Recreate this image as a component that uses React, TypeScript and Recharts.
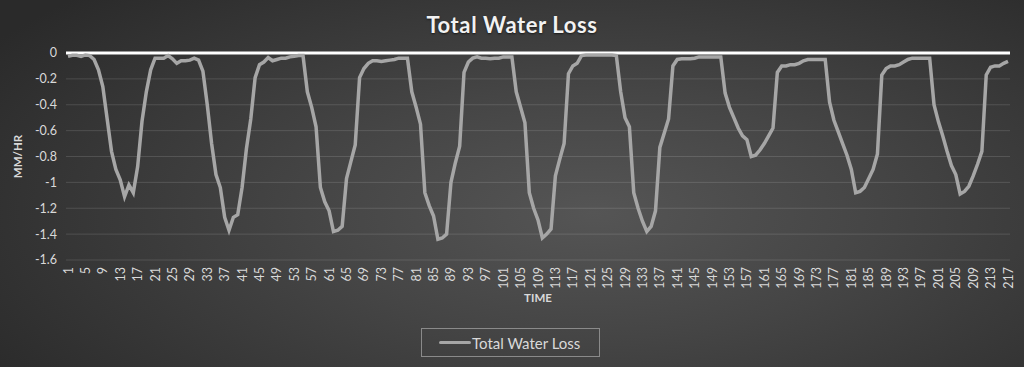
import { LineChart, Line, XAxis, YAxis, CartesianGrid, ReferenceLine } from 'recharts';

document.body.style.margin = '0';

// time steps 1..217 (category labels)
const timeSteps: number[] = Array.from({ length: 217 }, (_, i) => i + 1);

// total water loss, mm/hr
const waterLoss: number[] = [
  -0.026, -0.018, -0.018, -0.026, -0.015, -0.02, -0.05, -0.13, -0.26, -0.51,
  -0.76, -0.9, -0.98, -1.11, -1.02, -1.08, -0.88, -0.53, -0.3, -0.13,
  -0.04, -0.04, -0.04, -0.02, -0.045, -0.08, -0.06, -0.06, -0.055, -0.04,
  -0.055, -0.14, -0.4, -0.7, -0.94, -1.04, -1.27, -1.37, -1.27, -1.25,
  -1.04, -0.74, -0.51, -0.19, -0.09, -0.07, -0.035, -0.06, -0.05, -0.04,
  -0.04, -0.03, -0.025, -0.02, -0.02, -0.3, -0.42, -0.57, -1.04, -1.15,
  -1.22, -1.38, -1.37, -1.34, -0.97, -0.84, -0.71, -0.19, -0.12, -0.08,
  -0.06, -0.06, -0.065, -0.06, -0.055, -0.05, -0.04, -0.04, -0.04, -0.3,
  -0.42, -0.55, -1.08, -1.18, -1.26, -1.44, -1.43, -1.4, -1.0, -0.85,
  -0.72, -0.15, -0.07, -0.04, -0.03, -0.04, -0.04, -0.045, -0.04, -0.04,
  -0.03, -0.03, -0.03, -0.3, -0.42, -0.54, -1.08, -1.2, -1.29, -1.43,
  -1.4, -1.36, -0.95, -0.82, -0.7, -0.16, -0.1, -0.08, -0.02, -0.015,
  -0.015, -0.015, -0.015, -0.015, -0.015, -0.015, -0.02, -0.3, -0.5, -0.57,
  -1.08, -1.2, -1.3, -1.38, -1.34, -1.22, -0.73, -0.62, -0.51, -0.1,
  -0.05, -0.045, -0.045, -0.045, -0.04, -0.03, -0.03, -0.03, -0.03, -0.03,
  -0.03, -0.31, -0.42, -0.5, -0.58, -0.64, -0.67, -0.8, -0.79, -0.75,
  -0.7, -0.64, -0.58, -0.15, -0.1, -0.1, -0.09, -0.09, -0.08, -0.06,
  -0.05, -0.05, -0.05, -0.05, -0.05, -0.38, -0.52, -0.61, -0.7, -0.79,
  -0.9, -1.08, -1.07, -1.04, -0.97, -0.9, -0.78, -0.17, -0.12, -0.1,
  -0.1, -0.09, -0.07, -0.05, -0.04, -0.04, -0.04, -0.04, -0.04, -0.4,
  -0.53, -0.64, -0.76, -0.87, -0.94, -1.09, -1.07, -1.03, -0.95, -0.86,
  -0.76, -0.17, -0.11, -0.1, -0.1, -0.08, -0.065,
];

const yTicks: number[] = [0, -0.2, -0.4, -0.6, -0.8, -1, -1.2, -1.4, -1.6];

const chartData = timeSteps.map((t, i) => ({ time: t, loss: waterLoss[i] }));

const FONT = 'Lato, "Open Sans", sans-serif';
const TEXT = '#d9d9d9';
const LINE = '#a6a6a6';

const XTick = ({ x, y, payload }: any) => (
  <text
    transform={`translate(${x},${y}) rotate(-90)`}
    textAnchor="end"
    dominantBaseline="central"
    fill={TEXT}
    fontSize={12.5}
    fontFamily={FONT}
  >
    {payload.value}
  </text>
);

const App = () => {
  return (
    <div
      style={{
        position: 'relative',
        width: 1024,
        height: 367,
        background: 'radial-gradient(ellipse 70% 85% at 58% 58%, #555 0%, #454545 40%, #2a2a2a 100%)',
        fontFamily: FONT,
        overflow: 'hidden',
      }}
    >
      <div
        style={{
          position: 'absolute', top: 11, left: 0, width: 1024, textAlign: 'center',
          color: '#f2f2f2', fontWeight: 700, fontSize: 22, letterSpacing: 0.6,
          textShadow: '0 1px 2px rgba(0,0,0,0.6)',
        }}
      >
        Total Water Loss
      </div>

      <LineChart width={1024} height={367} data={chartData} margin={{ top: 53, right: 14, left: 0, bottom: 67 }}>
        <CartesianGrid horizontal vertical={false} stroke="rgba(255,255,255,0.13)" />
        <XAxis
          dataKey="time"
          interval={3}
          height={40}
          tick={<XTick />}
          tickLine={false}
          axisLine={false}
          tickSize={0}
          tickMargin={7}
          padding={{ left: 2, right: 2 }}
          label={{ value: 'TIME', position: 'insideBottom', offset: -2, fill: TEXT, fontSize: 11.5, fontWeight: 700, fontFamily: FONT }}
        />
        <YAxis
          width={66}
          domain={[-1.6, 0]}
          ticks={yTicks}
          tickLine={false}
          axisLine={false}
          tickSize={0}
          tickMargin={9}
          tick={{ fill: TEXT, fontSize: 12.5, fontFamily: FONT }}
          label={{ value: 'MM/HR', angle: -90, position: 'insideLeft', offset: 18, fill: TEXT, fontSize: 11.5, fontWeight: 700, fontFamily: FONT, style: { textAnchor: 'middle' } }}
        />
        <ReferenceLine y={0} stroke="#ffffff" strokeWidth={3} />
        <Line
          type="linear"
          dataKey="loss"
          stroke={LINE}
          strokeWidth={3.5}
          dot={false}
          isAnimationActive={false}
        />
      </LineChart>

      <div
        style={{
          position: 'absolute', left: 421, top: 328, width: 179, height: 29,
          border: '1px solid #8a8a8a', display: 'flex', alignItems: 'center',
          boxSizing: 'border-box',
        }}
      >
        <span style={{ display: 'inline-block', width: 32, height: 3, background: LINE, marginLeft: 17, borderRadius: 2 }} />
        <span style={{ color: TEXT, fontSize: 15, marginLeft: 1 }}>Total Water Loss</span>
      </div>
    </div>
  );
};

export default App;
